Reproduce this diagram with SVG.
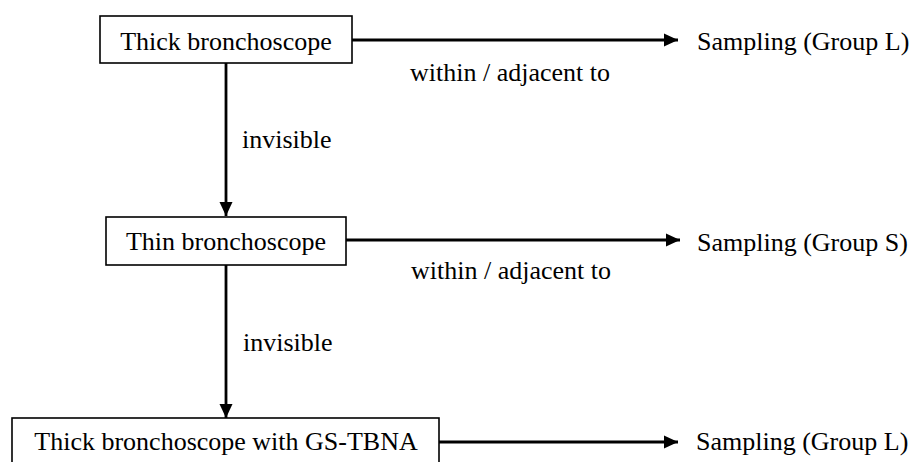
<svg xmlns="http://www.w3.org/2000/svg" width="921" height="462" viewBox="0 0 921 462" font-family="'Liberation Serif', 'Times New Roman', serif">
<style>
  .box { fill: #ffffff; stroke: #000000; stroke-width: 1.6; }
  .lbl { font-family: 'Liberation Serif', 'Times New Roman', serif; font-size: 26px; fill: #000000; }
  .mid { text-anchor: middle; }
  .conn { stroke: #000000; stroke-width: 2.8; fill: none; }
</style>
<defs>
  <marker id="arrow" markerUnits="userSpaceOnUse" markerWidth="16" markerHeight="16" viewBox="0 0 16 16" refX="14" refY="8" orient="auto">
    <polygon points="0,1.5 14,8 0,14.5" fill="#000000"/>
  </marker>
</defs>
<rect width="921" height="462" fill="#ffffff"/>
<g id="connectors">
  <line class="conn" x1="352" y1="40" x2="678" y2="40" marker-end="url(#arrow)"/>
  <line class="conn" x1="346" y1="240" x2="680" y2="240" marker-end="url(#arrow)"/>
  <line class="conn" x1="439" y1="442" x2="678" y2="442" marker-end="url(#arrow)"/>
  <line class="conn" x1="226" y1="63" x2="226" y2="216" marker-end="url(#arrow)"/>
  <line class="conn" x1="226" y1="265" x2="226" y2="418" marker-end="url(#arrow)"/>
  <text class="lbl mid" x="510" y="81">within / adjacent to</text>
  <text class="lbl mid" x="511" y="279">within / adjacent to</text>
  <text class="lbl" x="242" y="148">invisible</text>
  <text class="lbl" x="243" y="351">invisible</text>
</g>
<g id="thick">
  <rect class="box" x="100" y="16" width="252" height="47"/>
  <text class="lbl mid" x="226" y="50">Thick bronchoscope</text>
</g>
<g id="thin">
  <rect class="box" x="106" y="217" width="240" height="48"/>
  <text class="lbl mid" x="226" y="250">Thin bronchoscope</text>
</g>
<g id="gstbna">
  <rect class="box" x="12" y="418" width="427" height="50"/>
  <text class="lbl mid" x="226" y="450">Thick bronchoscope with GS-TBNA</text>
</g>
<g id="samplingL1">
  <text class="lbl" x="697" y="50">Sampling (Group L)</text>
</g>
<g id="samplingS">
  <text class="lbl" x="697" y="251">Sampling (Group S)</text>
</g>
<g id="samplingL2">
  <text class="lbl" x="696" y="450">Sampling (Group L)</text>
</g>
</svg>
